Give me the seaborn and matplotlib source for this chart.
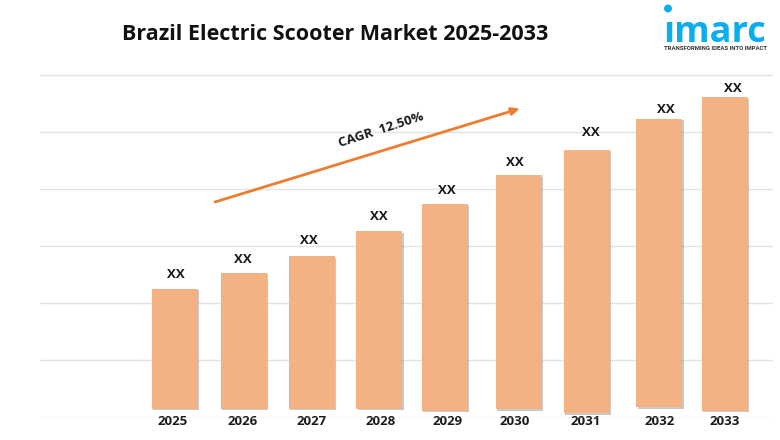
"""Brazil electric scooter market bar chart."""

import matplotlib.patheffects as pe
import matplotlib.pyplot as plt
import pandas as pd
import seaborn as sns
from matplotlib.patches import Ellipse

years = [2025, 2026, 2027, 2028, 2029, 2030, 2031, 2032, 2033]
bar_tops = [2.25, 2.53, 2.82, 3.26, 3.73, 4.24, 4.68, 5.22, 5.60]
bar_bases = [0.15, 0.15, 0.15, 0.15, 0.12, 0.14, 0.07, 0.175, 0.12]
value_labels = ["XX"] * 9
grid_levels = [0, 1, 2, 3, 4, 5, 6]

# hand placement of the original, in pixels
bar_nudge = [0, 0.3, -0.5, -2, -5, 0, -0.5, 3, 0]
tick_nudge = [-2, -1, -0.5, -1, -2, -4, -1.5, 3, 0]
label_x_nudge = [1, -1, -3.5, -2, -3, -4, 3.5, 10, 8]
label_gap = [14, 13, 16, 15, 14, 13, 17, 10, 9]

W, H = 780, 440
BAR_COLOR = "#F4B183"
INK = "#1a1a1a"
BLUE = "#0AAEEF"
PX = 68.75  # pixels per year

sns.set_theme(style="white")
plt.rcParams["font.family"] = ["Open Sans", "DejaVu Sans"]

fig = plt.figure(figsize=(W / 100, H / 100), dpi=100)
ax = fig.add_axes([40 / W, (H - 417.5) / H, 733 / W, 343 / H])

frame = pd.DataFrame({"year": years, "height": [t - b for t, b in zip(bar_tops, bar_bases)]})
sns.barplot(
    data=frame, x="year", y="height", native_scale=True, width=46 / 68.75,
    color=BAR_COLOR, saturation=1, bottom=bar_bases, linewidth=0, ax=ax, zorder=3,
)

ax.set_xlim(2025 - 135 / PX, 2025 + 598 / PX)
ax.set_ylim(0, 6)
ax.set_yticks(grid_levels)
ax.tick_params(axis="y", left=False, labelleft=False)
ax.yaxis.grid(True, color="#E3E3E3", linewidth=1)
ax.set_axisbelow(True)
ax.set_xlabel("")
ax.set_ylabel("")
sns.despine(ax=ax, left=True, bottom=True)

shadow = [pe.SimplePatchShadow(offset=(1, -1), shadow_rgbFace="#666666", alpha=0.35), pe.Normal()]
for patch, nudge in zip(ax.patches, bar_nudge):
    patch.set_x(patch.get_x() + nudge / PX)
    patch.set_path_effects(shadow)

ax.set_xticks([y + n / PX for y, n in zip(years, tick_nudge)], [str(y) for y in years])
ax.tick_params(axis="x", bottom=False, pad=-7.5, labelsize=9.5, labelcolor=INK)
for tick in ax.get_xticklabels():
    tick.set_fontweight("bold")

for year, top, text, dx, gap in zip(years, bar_tops, value_labels, label_x_nudge, label_gap):
    ax.annotate(
        text, (year, top), xytext=(dx * 0.72, gap * 0.72), textcoords="offset points",
        ha="center", va="center", fontsize=9.5, fontweight="bold", color=INK,
    )


def fx(px):
    return px / W


def fy(py):
    return 1 - py / H


fig.text(fx(335), fy(35), "Brazil Electric Scooter Market 2025-2033", ha="center", va="center",
         fontsize=15.5, fontweight="bold", color="#111111")

ax.annotate(
    "", xy=(fx(520), fy(108.5)), xytext=(fx(215), fy(202)),
    xycoords="figure fraction", textcoords="figure fraction",
    arrowprops=dict(arrowstyle="-|>,head_length=0.4,head_width=0.18", color="#ED7D31", lw=2,
                    shrinkA=0, shrinkB=0),
    annotation_clip=False, zorder=4,
)
fig.text(fx(381), fy(130), "CAGR  12.50%", ha="center", va="center", rotation=18,
         rotation_mode="anchor", fontsize=9.5, fontweight="bold", color=INK)

# logo
fig.text(fx(715), fy(42), "\u0131marc", ha="center", va="baseline", fontsize=26, fontweight="bold", color=BLUE)
fig.add_artist(Ellipse((fx(668), fy(8.5)), 6.5 / W, 6.5 / H, transform=fig.transFigure, color=BLUE))
fig.text(fx(715.5), fy(48.5), "TRANSFORMING IDEAS INTO IMPACT", ha="center", va="center",
         fontsize=4.3, fontweight="bold", family="Roboto", color="#333333")

fig.savefig("out.png", dpi=100)
plt.close(fig)
